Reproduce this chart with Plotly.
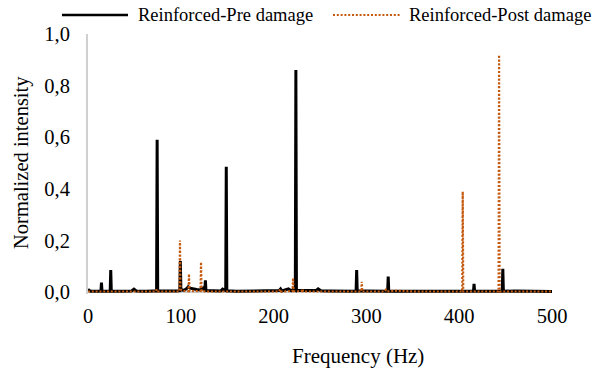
import plotly.graph_objects as go

# ---- data ----
pre_freq = [0, 1, 3, 6, 10, 13.9, 14.5, 15.1, 20, 23.9, 24.5, 25.1, 35, 47, 49.5, 52, 62, 69, 71, 73.9, 74.5, 75.1,
            85, 95, 98.9, 99.5, 100.1, 103, 106, 108, 110, 113, 117, 121, 124, 125.9, 126.5, 127.1, 135, 143, 145,
            148.4, 149, 149.6, 160, 170, 180, 190, 200, 206, 207.5, 209, 214, 216, 219, 221, 223.4, 224, 224.6, 232,
            240, 246, 248, 251, 260, 270, 280, 288.9, 289.5, 290.1, 300, 310, 318, 322.9, 323.5, 324.1, 335, 350,
            365, 380, 392, 400, 405, 411, 415.4, 416, 416.6, 425, 435, 446.4, 447, 447.6, 460, 475, 488, 500]
pre_val = [0.012, 0.006, 0.003, 0.004, 0.003, 0.003, 0.036, 0.003, 0.004, 0.004, 0.085, 0.004, 0.003, 0.004, 0.011,
           0.004, 0.003, 0.006, 0.004, 0.004, 0.59, 0.004, 0.003, 0.004, 0.005, 0.12, 0.01, 0.006, 0.012, 0.02,
           0.015, 0.012, 0.01, 0.008, 0.015, 0.008, 0.045, 0.006, 0.004, 0.004, 0.011, 0.005, 0.485, 0.005, 0.003,
           0.004, 0.003, 0.004, 0.005, 0.006, 0.012, 0.004, 0.01, 0.012, 0.005, 0.01, 0.006, 0.86, 0.006, 0.005,
           0.004, 0.006, 0.012, 0.005, 0.004, 0.003, 0.003, 0.003, 0.085, 0.005, 0.004, 0.003, 0.003, 0.003, 0.06,
           0.003, 0.003, 0.003, 0.004, 0.004, 0.003, 0.005, 0.003, 0.004, 0.003, 0.032, 0.003, 0.003, 0.003, 0.003,
           0.09, 0.003, 0.004, 0.003, 0.003, 0.002]

post_freq = [0, 20, 40, 60, 73, 74, 75, 90, 98.5, 99.1, 99.7, 102, 106, 108.2, 108.8, 109.4, 113, 118, 121.2,
             121.8, 122.4, 130, 150, 180, 200, 206, 207, 208, 215, 220.4, 221, 221.6, 226, 230, 231, 232, 250, 270,
             290, 294.4, 295, 295.6, 310, 320, 321, 322, 331, 350, 380, 400, 403.2, 403.8, 404.4, 420, 440, 442.4,
             443, 443.6, 460, 480, 500]
post_val = [0.002, 0.002, 0.002, 0.002, 0.002, 0.01, 0.002, 0.002, 0.002, 0.2, 0.01, 0.004, 0.003, 0.003, 0.07,
            0.004, 0.003, 0.004, 0.004, 0.116, 0.003, 0.002, 0.002, 0.002, 0.002, 0.002, 0.01, 0.002, 0.003, 0.003,
            0.054, 0.003, 0.003, 0.003, 0.012, 0.002, 0.002, 0.002, 0.002, 0.002, 0.04, 0.002, 0.002, 0.002, 0.008,
            0.002, 0.005, 0.002, 0.002, 0.002, 0.002, 0.389, 0.002, 0.002, 0.002, 0.002, 0.919, 0.002, 0.002,
            0.002, 0.002]

pre_name = "Reinforced-Pre damage"
post_name = "Reinforced-Post damage"
x_ticks = [0, 100, 200, 300, 400, 500]
y_ticks = [0.0, 0.2, 0.4, 0.6, 0.8, 1.0]

BLACK = "#000000"
ORANGE = "#C55A11"
FONT = "'Liberation Serif', 'Times New Roman', Times, serif"

W, H = 605, 378
L, R, T, B = 88, 53, 34, 84
PW, PH = W - L - R, H - T - B


def px(xp):
    return (xp - L) / PW


def py(yp):
    return (H - B - yp) / PH


fig = go.Figure()
fig.add_trace(go.Scatter(x=pre_freq, y=pre_val, mode="lines", name=pre_name,
                         line=dict(color=BLACK, width=3), showlegend=False))
fig.add_trace(go.Scatter(x=post_freq, y=post_val, mode="lines", name=post_name,
                         line=dict(color=ORANGE, width=2.2, dash="2px,1.8px"), showlegend=False))

fig.update_layout(
    width=W, height=H,
    margin=dict(l=L, r=R, t=T, b=B, pad=0),
    paper_bgcolor="white", plot_bgcolor="white",
    separators=",.",
    font=dict(family=FONT, size=20, color="#000000"),
    showlegend=False,
)
fig.update_xaxes(range=[0, 500], tickvals=x_ticks, showgrid=False, zeroline=False, showline=False,
                 ticks="", ticklabelstandoff=7, tickfont=dict(size=20.5), automargin=False)
fig.update_yaxes(range=[-0.0077, 1.0], tickvals=y_ticks, tickformat=".1f", showgrid=False,
                 zeroline=True, zerolinecolor="#D0D0D0", zerolinewidth=1.5,
                 showline=True, linecolor="#D0D0D0", linewidth=2,
                 ticks="", ticklabelstandoff=12, tickfont=dict(size=20.5), automargin=False)

# axis titles
fig.add_annotation(text="Frequency (Hz)", xref="paper", yref="paper", x=px(358), y=py(356),
                   xanchor="center", yanchor="middle", showarrow=False, font=dict(size=21))
fig.add_annotation(text="Normalized intensity", xref="paper", yref="paper", x=px(21), y=py(163),
                   xanchor="center", yanchor="middle", textangle=-90, showarrow=False, font=dict(size=20.5))

# legend (drawn manually to match long line samples)
ly = py(15)
fig.add_shape(type="line", xref="paper", yref="paper", x0=px(62), x1=px(128), y0=ly, y1=ly,
              line=dict(color=BLACK, width=2.5))
fig.add_annotation(text=pre_name, xref="paper", yref="paper", x=px(136), y=ly, xanchor="left",
                   yanchor="middle", showarrow=False, font=dict(size=18.5))
fig.add_shape(type="line", xref="paper", yref="paper", x0=px(333), x1=px(400), y0=ly, y1=ly,
              line=dict(color=ORANGE, width=2, dash="2px,1.8px"))
fig.add_annotation(text=post_name, xref="paper", yref="paper", x=px(407), y=ly, xanchor="left",
                   yanchor="middle", showarrow=False, font=dict(size=18.5))

fig.write_html("out.html", config={"displayModeBar": False},
               post_script="document.body.style.margin='0';document.body.style.padding='0';")
